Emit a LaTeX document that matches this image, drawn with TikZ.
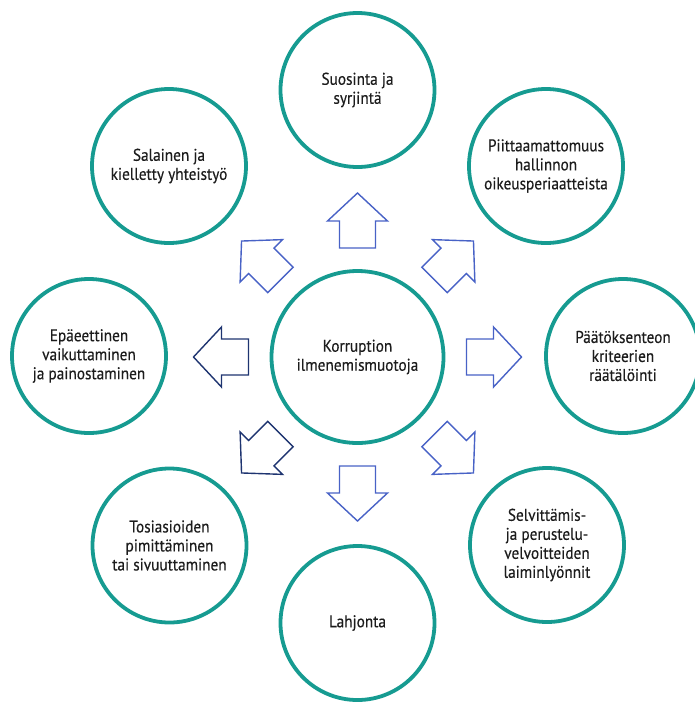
\documentclass[tikz,border=0pt]{standalone}
\usepackage{fontspec}
\setmainfont{PT Sans}[FakeStretch=0.9, FakeBold=0.3]
\definecolor{ringteal}{RGB}{22,155,145}
\definecolor{arrowblue}{RGB}{72,98,198}
\definecolor{arrownavy}{RGB}{30,52,112}
\definecolor{txtgray}{RGB}{28,28,28}
\tikzset{
  ring/.style={circle, draw=ringteal, line width=3.8pt, fill=white, minimum size=154pt, inner sep=0pt,
    align=center, text=txtgray, font=\fontsize{17}{19}\selectfont},
  bigring/.style={ring, minimum size=172pt},
  blockarrow/.pic={
    \draw[line width=1.4pt, line join=miter, fill=white, pic actions]
      (109pt,-18pt) -- (136pt,-18pt) -- (136pt,-30pt) -- (164pt,0pt) -- (136pt,30pt) -- (136pt,18pt) -- (109pt,18pt) -- cycle;
  }
}
\begin{document}
\begin{tikzpicture}[x=1pt,y=-1pt]
\useasboundingbox (0,0) rectangle (695,702);
\coordinate (c) at (357.5,357);
\node[bigring] (center) at (c) {Korruption\\ilmenemismuotoja};
\node[ring] (top) at (357.5,90) {Suosinta ja\\syrjintä};
\node[ring] (tr) at (546,166) {Piittaamattomuus\\hallinnon\\oikeusperiaatteista};
\node[ring] (right) at (623,356) {Päätöksenteon\\kriteerien\\räätälöinti};
\node[ring] (br) at (547,545) {Selvittämis-\\ja perustelu-\\velvoitteiden\\laiminlyönnit};
\node[ring] (bottom) at (357.5,623) {Lahjonta};
\node[ring] (bl) at (169.5,545.5) {Tosiasioiden\\pimittäminen\\tai sivuuttaminen};
\node[ring] (left) at (89,356) {Epäeettinen\\vaikuttaminen\\ja painostaminen};
\node[ring] (tl) at (169,166) {Salainen ja\\kielletty yhteistyö};
\pic[draw=arrowblue, rotate=90] at (c) {blockarrow};
\pic[draw=arrowblue, rotate=45] at (c) {blockarrow};
\pic[draw=arrowblue, rotate=0] at (c) {blockarrow};
\pic[draw=arrowblue, rotate=-45] at (c) {blockarrow};
\pic[draw=arrowblue, rotate=-90] at (c) {blockarrow};
\pic[draw=arrownavy, rotate=-135] at (c) {blockarrow};
\pic[draw=arrownavy, rotate=180] at (c) {blockarrow};
\pic[draw=arrowblue, rotate=135] at (c) {blockarrow};
\end{tikzpicture}
\end{document}
